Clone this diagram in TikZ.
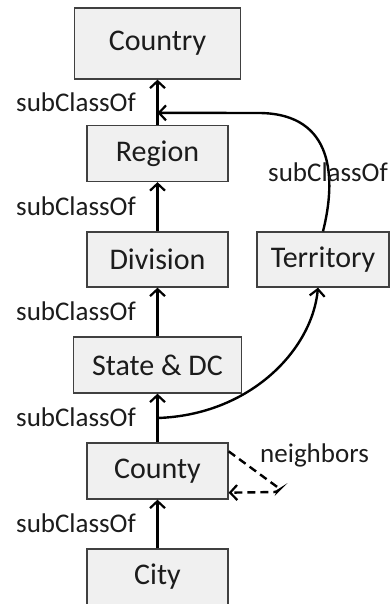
\documentclass[tikz,border=0pt]{standalone}
\usepackage{fontspec}
\setmainfont{Carlito}
\usetikzlibrary{arrows.meta,calc}
\definecolor{boxfill}{HTML}{F0F0F0}
\definecolor{boxline}{HTML}{404040}
\definecolor{txt}{HTML}{1C1C1C}
\begin{document}
\begin{tikzpicture}[x=1pt,y=-1pt,
  box/.style={draw=boxline, fill=boxfill, line width=1.3pt, inner sep=0pt, text=txt, font=\fontsize{30}{32}\selectfont},
  lbl/.style={font=\fontsize{27}{29}\selectfont, inner sep=0pt, anchor=base west, text=txt},
  arr/.style={line width=2.4pt, -{Straight Barb[length=7pt,width=15pt,line width=2.2pt]}},
  dasharr/.style={line width=2.4pt, dash pattern=on 8pt off 5pt, -{Straight Barb[length=7pt,width=15pt,line width=2.2pt]}}]
\useasboundingbox (0,0) rectangle (391,604);
\node[box, minimum width=166pt, minimum height=71pt] (country) at (157.5,43.5) {Country};
\node[box, minimum width=141pt, minimum height=56pt] (region) at (157.5,153.5) {Region};
\node[box, minimum width=141pt, minimum height=55pt] (division) at (157.5,259.5) {Division};
\node[box, minimum width=132pt, minimum height=55pt] (territory) at (323,259.5) {Territory};
\node[box, minimum width=168pt, minimum height=56pt] (state) at (157.5,365) {State \& DC};
\node[box, minimum width=141pt, minimum height=56pt] (county) at (157.5,471) {County};
\node[box, minimum width=141pt, minimum height=56pt] (city) at (157.5,577) {City};
\draw[arr] (region.north) -- (region.north |- country.south);
\draw[arr] (division.north) -- (division.north |- region.south);
\draw[arr] (state.north) -- (state.north |- division.south);
\draw[arr] (county.north) -- (county.north |- state.south);
\draw[arr] (city.north) -- (city.north |- county.south);
\coordinate (j1) at ($(county.north)!0.5!(state.south)$);
\coordinate (j2) at ($(region.north)+(0,-12)$);
\draw[arr] (j1) .. controls (250,415) and (312,350) .. ([xshift=-5pt]territory.south);
\draw[arr] (territory.north) .. controls (336,180) and (335,114) .. (260,113) -- (j2);
\draw[dasharr, rounded corners=3pt] ([yshift=-9pt]county.north east) -- (280,489) -- (277,492) -- ([yshift=7pt]county.south east);
\node[lbl] (l1) at (16,112) {subClassOf};
\node[lbl] (l2) at (16,215) {subClassOf};
\node[lbl] (l3) at (16,320) {subClassOf};
\node[lbl] (l4) at (16,426) {subClassOf};
\node[lbl] (l5) at (16,532) {subClassOf};
\node[lbl] (l6) at (268,181) {subClassOf};
\node[lbl] (nb) at (260,462) {neighbors};
\end{tikzpicture}
\end{document}
